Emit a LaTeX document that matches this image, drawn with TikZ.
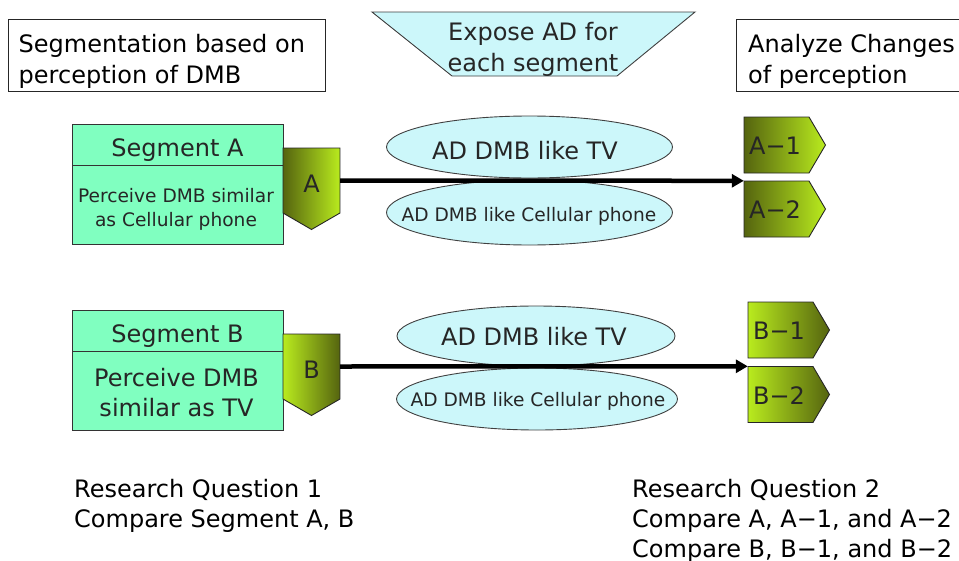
\documentclass[tikz,border=0pt]{standalone}
\usepackage{fontspec}
\setmainfont{DejaVu Sans}
\usetikzlibrary{shapes.geometric,arrows.meta}

\definecolor{mint}{HTML}{80FFC0}
\definecolor{skyfill}{HTML}{CCF7FA}
\definecolor{olivedark}{HTML}{55640F}
\definecolor{olivelight}{HTML}{B9EB1E}
\definecolor{ink}{HTML}{262626}

\begin{document}
\begin{tikzpicture}[x=1pt,y=-1pt,
  big/.style={font=\fontsize{24}{30.5}\selectfont},
  small/.style={font=\fontsize{18.6}{23.8}\selectfont},
  plain/.style={inner sep=0pt, big, align=left},
  labelbox/.style={draw=black!85, line width=0.9pt, fill=white, inner sep=0pt},
  seghead/.style={draw=black!80, line width=0.9pt, fill=mint, minimum width=211pt,
    minimum height=41pt, inner sep=0pt, big, text=ink, text height=24pt, text depth=0pt},
  segbody/.style={draw=black!80, line width=0.9pt, fill=mint, minimum width=211pt,
    minimum height=79pt, inner sep=0pt},
  adoval/.style={ellipse, draw=black!75, line width=0.9pt, fill=skyfill, inner sep=0pt},
  txt/.style={inner sep=0pt, text=ink},
  flow/.style={line width=4.5pt, -{Triangle[length=12pt,width=13pt]}},
  pics/downtag/.style n args={3}{code={
    \shadedraw[left color=#1, right color=#2, draw=black!85, line width=0.9pt]
      (-28.5,-32.5) -- (28.5,-32.5) -- (28.5,32.5) -- (0,49) -- (-28.5,32.5) -- cycle;
    \node[inner sep=0pt, minimum width=57pt, minimum height=65pt] (-box) at (0,0) {};
    \node[txt, big, anchor=base] (-label) at (0,12) {#3};
  }},
  pics/righttag/.style n args={3}{code={
    \shadedraw[left color=#1, right color=#2, draw=black!85, line width=0.9pt]
      (-32.5,-28) -- (32.5,-28) -- (49,0) -- (32.5,28) -- (-32.5,28) -- cycle;
    \node[inner sep=0pt, minimum width=65pt, minimum height=56pt] (-box) at (0,0) {};
    \node[txt, big, anchor=base] (-label) at (-1.5,9.5) {#3};
  }},
]
\useasboundingbox (0,0) rectangle (959,560);

% headings
\node[labelbox, minimum width=317pt, minimum height=72pt] (segtitle) at (166.5,55) {};
\node[plain, anchor=north west] (segtitle-text) at (18.5,34.3) {Segmentation based on\\perception of DMB};
\node[labelbox, minimum width=244pt, minimum height=72pt] (analyze) at (858,55) {};
\node[plain, anchor=north west] (analyze-text) at (748,34.3) {Analyze Changes\\of perception};
\draw[draw=black!75, line width=0.9pt, fill=skyfill]
  (372,12) -- (695,12) -- (617,76) -- (452,76) -- cycle;
\node[big, inner sep=0pt, align=center, text=ink, anchor=north] (expose) at (533,22.3) {Expose AD for\\each segment};

% segment A
\node[seghead] (sa-head) at (177.5,144.5) {Segment A};
\node[segbody] (sa-body) at (177.5,204.5) {};
\node[txt, small, align=center, anchor=north] (sa-text) at (176,188.4) {Perceive DMB similar\\as Cellular phone};
\pic (pa) at (311.5,180.5) {downtag={olivedark}{olivelight}{A}};

% segment B
\node[seghead] (sb-head) at (177.5,330.5) {Segment B};
\node[segbody] (sb-body) at (177.5,390.5) {};
\node[txt, big, align=center, anchor=north, font=\fontsize{24}{30}\selectfont] (sb-text) at (176.5,367.8) {Perceive DMB\\similar as TV};
\pic (pb) at (311.5,366.5) {downtag={olivelight}{olivedark}{B}};

% advertisements
\node[adoval, minimum width=286pt, minimum height=62pt] (ada-tv) at (529.5,147) {};
\node[txt, big, anchor=base] (ada-tv-text) at (525,159.5) {AD DMB like TV};
\node[adoval, minimum width=286pt, minimum height=65pt] (ada-cell) at (529.5,212.5) {};
\node[txt, small, anchor=base] (ada-cell-text) at (529,221) {AD DMB like Cellular phone};
\node[adoval, minimum width=278pt, minimum height=60pt] (adb-tv) at (536,336) {};
\node[txt, big, anchor=base] (adb-tv-text) at (534,345) {AD DMB like TV};
\node[adoval, minimum width=281pt, minimum height=62pt] (adb-cell) at (537,399) {};
\node[txt, small, anchor=base] (adb-cell-text) at (538,406) {AD DMB like Cellular phone};

% outcome tags
\pic (a1) at (776.5,145) {righttag={olivedark}{olivelight}{A−1}};
\pic (a2) at (776.5,209) {righttag={olivedark}{olivelight}{A−2}};
\pic (b1) at (780.5,330) {righttag={olivelight}{olivedark}{B−1}};
\pic (b2) at (780.5,394.5) {righttag={olivelight}{olivedark}{B−2}};

% flows
\draw[flow] (pa-box.east) -- (a2-box.north west);
\draw[flow] (pb-box.east) -- (b2-box.north west);

% research questions
\node[plain, anchor=north west, font=\fontsize{24}{30}\selectfont] (rq1) at (74,479.2) {Research Question 1\\Compare Segment A, B};
\node[plain, anchor=north west, font=\fontsize{24}{30}\selectfont] (rq2) at (632,479.2) {Research Question 2\\Compare A, A−1, and A−2\\Compare B, B−1, and B−2};
\end{tikzpicture}
\end{document}
